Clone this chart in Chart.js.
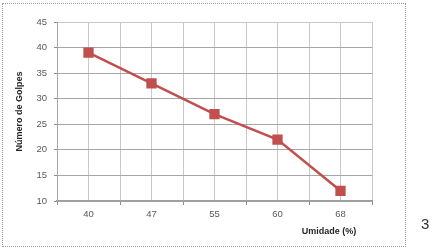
<!DOCTYPE html>
<html>
<head>
<meta charset="utf-8">
<script src="https://cdn.jsdelivr.net/npm/chart.js@4"></script>
<style>
    body { margin: 0; background: #fff; }
    #wrap { position: relative; width: 436px; height: 249px; }
    #frame { position: absolute; left: 2px; top: 3px; width: 402px; height: 242px; border: 1px dotted #9a9a9a; }
    #chart { position: absolute; left: 0; top: 0; }
    #page { position: absolute; left: 421px; top: 215px; font: 15px "Liberation Sans", sans-serif; color: #333; }
</style>
</head>
<body>
<div id="wrap">
    <div id="frame"></div>
    <canvas id="chart" width="436" height="249"></canvas>
    <div id="page">3</div>
</div>
<script>
let umidade = ['40', '47', '55', '60', '68'];
let golpes = [39, 33, 27, 22, 12];
let yTicks = [10, 15, 20, 25, 30, 35, 40, 45];

let fontFamily = '"Liberation Sans", sans-serif';

// x title sits right of centre in the original, so draw it by hand
let xTitle = {
    id: 'xTitle',
    afterDraw(chart) {
        let ctx = chart.ctx;
        ctx.save();
        ctx.font = 'bold 9px ' + fontFamily;
        ctx.fillStyle = '#262626';
        ctx.textAlign = 'center';
        ctx.textBaseline = 'middle';
        ctx.fillText('Umidade (%)', 329, 232);
        ctx.restore();
    }
};

new Chart(document.getElementById('chart'), {
    type: 'line',
    data: {
        datasets: [{
            label: 'Número de Golpes',
            data: golpes.map((g, i) => ({ x: i + 0.5, y: g })),
            borderColor: '#c0504d',
            backgroundColor: '#c0504d',
            borderWidth: 2.5,
            pointStyle: 'rect',
            pointRadius: 5.5,
            pointHoverRadius: 5.5
        }]
    },
    options: {
        responsive: false,
        animation: false,
        layout: { padding: { left: 0, right: 64, top: 22, bottom: 0 } },
        plugins: { legend: { display: false }, tooltip: { enabled: false } },
        scales: {
            x: {
                type: 'linear',
                min: 0,
                max: umidade.length,
                afterFit: (scale) => { scale.height = 48; },
                afterBuildTicks: (scale) => {
                    let t = [];
                    for (let v = 0; v <= umidade.length; v += 0.5) t.push({ value: v });
                    scale.ticks = t;
                },
                ticks: {
                    autoSkip: false,
                    maxRotation: 0,
                    padding: 4,
                    color: '#595959',
                    font: { family: fontFamily, size: 9.5 },
                    callback: (v) => Number.isInteger(v) ? '' : umidade[Math.floor(v)]
                },
                grid: {
                    color: '#c8c8c8',
                    tickLength: 4,
                    tickColor: (c) => (c.tick && Number.isInteger(c.tick.value)) ? '#8c8c8c' : 'rgba(0,0,0,0)'
                },
                border: { color: '#a0a0a0', width: 2 }
            },
            y: {
                min: yTicks[0],
                max: yTicks[yTicks.length - 1],
                afterFit: (scale) => { scale.width = 57; },
                ticks: {
                    stepSize: 5,
                    padding: 7,
                    color: '#595959',
                    font: { family: fontFamily, size: 9.5 }
                },
                grid: {
                    color: (c) => (c.tick && c.tick.value === 45) ? '#c8c8c8' : '#a6a6a6',
                    tickLength: 3,
                    tickColor: '#8c8c8c'
                },
                border: { color: '#a6a6a6', width: 1 },
                title: {
                    display: true,
                    text: 'Número de Golpes',
                    color: '#262626',
                    font: { family: fontFamily, size: 9, weight: 'bold' },
                    padding: { top: 14, bottom: 0 }
                }
            }
        }
    },
    plugins: [xTitle]
});
</script>
</body>
</html>
